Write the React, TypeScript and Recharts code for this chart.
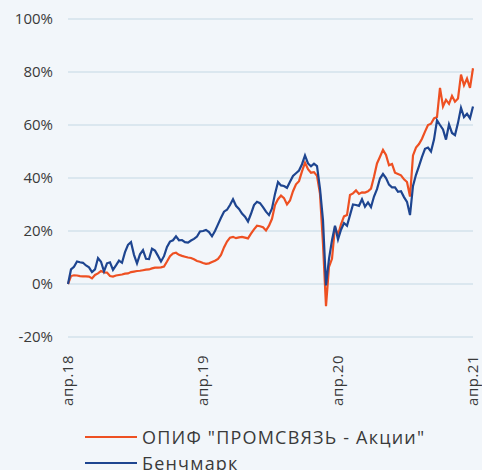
import React from 'react';
import { LineChart, Line, XAxis, YAxis, CartesianGrid } from 'recharts';

// ── Data (≈ one point every 8 days, Apr 2018 → Apr 2021) ─────────
const FUND_NAME = 'ОПИФ "ПРОМСВЯЗЬ - Акции"';
const BENCH_NAME = 'Бенчмарк';

const FUND = [
  0, 3.0, 3.3, 3.2, 3.0, 2.9, 2.9, 2.8, 2.1, 3.4,
  4.0, 4.9, 4.4, 4.3, 3.0, 2.8, 3.2, 3.4, 3.6, 3.9,
  4.0, 4.5, 4.7, 4.9, 5.0, 5.2, 5.4, 5.5, 5.9, 6.2,
  6.2, 6.3, 6.6, 8.5, 10.5, 11.5, 11.8, 11.0, 10.6, 10.3,
  10.0, 9.8, 9.3, 8.7, 8.4, 7.9, 7.6, 7.8, 8.3, 8.8,
  9.5, 11.0, 13.8, 16.0, 17.5, 17.8, 17.3, 17.6, 17.8, 17.5,
  17.2, 19.0, 20.6, 22.0, 21.8, 21.4, 20.2, 22.0, 24.6, 29.8,
  32.0, 33.4, 32.4, 30.0, 31.5, 35.0, 37.6, 38.8, 42.5, 45.8,
  43.3, 42.0, 42.2, 40.8, 34.0, 15.0, -8.4, 6.5, 9.5, 21.6,
  18.5, 22.5, 25.5, 26.0, 33.6, 34.2, 35.3, 34.0, 34.6, 34.5,
  35.0, 36.0, 40.5, 45.5, 48.0, 50.6, 48.7, 44.8, 45.3, 42.0,
  41.5, 41.0, 39.5, 38.5, 33.0, 48.5, 51.5, 52.8, 54.8, 57.5,
  60.0, 60.5, 62.5, 63.0, 74.0, 67.0, 69.5, 68.0, 71.0, 68.8,
  70.0, 79.0, 75.0, 77.5, 74.0, 81.4,
];

const BENCH = [
  0, 5.5, 6.5, 8.5, 8.2, 8.0, 7.0, 6.3, 4.5, 5.5,
  9.8, 8.4, 4.8, 7.8, 8.2, 5.3, 7.0, 8.8, 8.0, 12.0,
  14.8, 15.8, 11.0, 7.8, 11.2, 12.8, 9.5, 9.4, 13.3, 12.6,
  10.6, 8.5, 10.5, 14.0, 16.0, 16.5, 18.0, 16.5, 16.6, 15.8,
  15.6, 16.4, 17.0, 17.9, 19.8, 20.0, 20.4, 19.6, 18.0, 20.0,
  22.5, 25.0, 27.3, 28.0, 29.8, 32.0, 29.5, 28.3, 26.6, 25.4,
  23.6, 26.5, 29.8, 31.0, 30.5, 29.0, 27.3, 26.0, 28.5, 34.0,
  38.5, 37.2, 37.0, 36.3, 38.6, 40.8, 41.8, 42.8, 45.2, 48.5,
  45.5, 44.4, 45.4, 44.5, 36.0, 24.0, -0.5, 9.5, 16.5, 22.0,
  16.8, 20.5, 23.0, 22.0, 26.0, 30.0, 29.8, 29.5, 32.0, 29.2,
  30.8, 29.0, 33.0, 35.8, 39.8, 41.5, 40.0, 37.5, 36.5, 36.5,
  34.8, 35.0, 32.8, 31.0, 26.0, 37.0, 41.2, 44.5, 48.0, 51.0,
  51.5, 50.0, 54.5, 61.8, 60.0, 58.3, 54.5, 60.2, 57.0, 56.2,
  60.8, 66.5, 63.0, 64.2, 62.5, 67.0,
];

const X_TICKS = [0, 45, 90, 135];
const X_LABELS = ['апр.18', 'апр.19', 'апр.20', 'апр.21'];
const Y_TICKS = [-20, 0, 20, 40, 60, 80, 100];

const ORANGE = '#ee5022';
const BLUE = '#1e4590';
const FONT = '"Open Sans", "Noto Sans", sans-serif';

const data = FUND.map((v, i) => ({ t: i, fund: v, bench: BENCH[i] }));

// ── Ticks ──────────────────────────────────────────────────────
function XTick(props: { x?: number; y?: number; payload?: { value: number } }) {
  const { x = 0, y = 0, payload } = props;
  const idx = X_TICKS.indexOf(payload?.value ?? -1);
  return (
    <text
      transform={`translate(${x + 5},${y + 10}) rotate(-90)`}
      textAnchor="end"
      fill="#3a3a3a"
      fontSize={15}
      letterSpacing={0.5}
      fontFamily={FONT}
    >
      {X_LABELS[idx] ?? ''}
    </text>
  );
}

function YTick(props: { x?: number; y?: number; payload?: { value: number } }) {
  const { y = 0, payload } = props;
  return (
    <text x={53} y={y} dy={5} textAnchor="end" fill="#3a3a3a" fontSize={15} fontFamily={FONT}>
      {`${payload?.value}%`}
    </text>
  );
}

// ── Legend ─────────────────────────────────────────────────────
function LegendRow({ color, label, top }: { color: string; label: string; top: number }) {
  return (
    <div style={{ position: 'absolute', left: 85, top, display: 'flex', alignItems: 'center', whiteSpace: 'nowrap' }}>
      <div style={{ width: 52, height: 2, background: color, marginRight: 5 }} />
      <span style={{ fontSize: 18, color: '#3a3a3a', fontFamily: FONT, lineHeight: '22px', letterSpacing: 1.2 }}>
        {label}
      </span>
    </div>
  );
}

export default function App() {
  return (
    <div
      style={{
        position: 'fixed',
        left: 0,
        top: 0,
        width: 482,
        height: 470,
        background: '#f2f6fa',
        overflow: 'hidden',
      }}
    >
      <LineChart width={482} height={470} data={data} margin={{ top: 19, right: 9, bottom: 63, left: 0 }}>
        <CartesianGrid vertical={false} stroke="#c4d8e4" strokeWidth={1} />
        <XAxis
          type="number"
          dataKey="t"
          domain={[0, 135]}
          ticks={X_TICKS}
          tick={<XTick />}
          axisLine={false}
          tickLine={false}
          height={70}
          interval={0}
        />
        <YAxis
          type="number"
          domain={[-20, 100]}
          ticks={Y_TICKS}
          tick={<YTick />}
          axisLine={false}
          tickLine={false}
          width={68}
          interval={0}
        />
        <Line
          type="linear"
          dataKey="fund"
          stroke={ORANGE}
          strokeWidth={2.2}
          dot={false}
          isAnimationActive={false}
        />
        <Line
          type="linear"
          dataKey="bench"
          stroke={BLUE}
          strokeWidth={2.2}
          dot={false}
          isAnimationActive={false}
        />
      </LineChart>
      <LegendRow color={ORANGE} label={FUND_NAME} top={426} />
      <LegendRow color={BLUE} label={BENCH_NAME} top={452} />
    </div>
  );
}
